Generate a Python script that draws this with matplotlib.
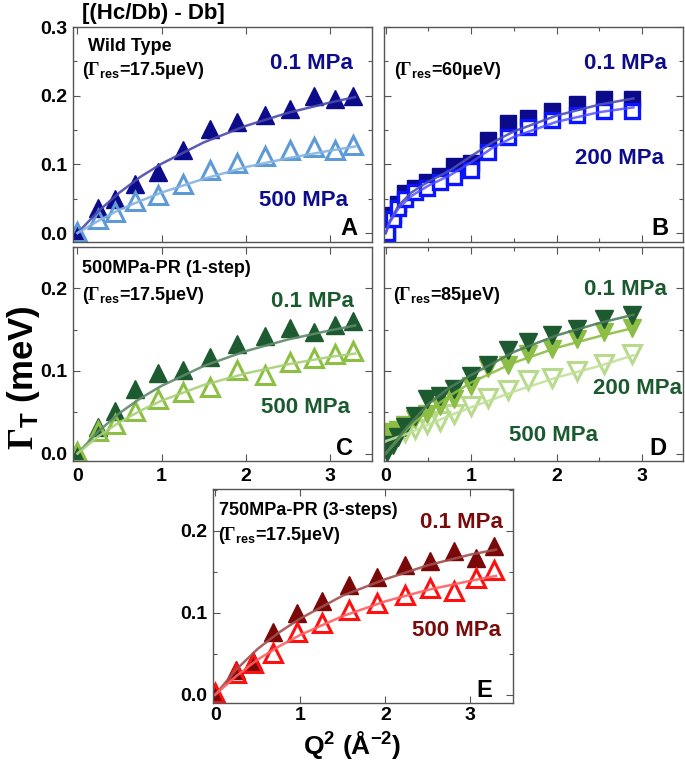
import numpy as np
import matplotlib
matplotlib.use("Agg")
import matplotlib.pyplot as plt
from matplotlib.ticker import MultipleLocator, FormatStrFormatter

plt.rcParams['font.family'] = ['Liberation Sans', 'DejaVu Sans']
plt.rcParams['font.weight'] = 'bold'
plt.rcParams['mathtext.fontset'] = 'custom'
plt.rcParams['mathtext.rm'] = 'Liberation Serif:bold'
plt.rcParams['mathtext.it'] = 'Liberation Sans:bold'
plt.rcParams['mathtext.bf'] = 'Liberation Sans:bold'

# Q^2 values (A^-2)
qA = [0.0, 0.25, 0.45, 0.68, 0.96, 1.26, 1.57, 1.90, 2.23, 2.53, 2.81, 3.06, 3.28]
qB = [0.02, 0.08, 0.14, 0.23, 0.34, 0.48, 0.63, 0.80, 1.00, 1.20, 1.43, 1.67, 1.95, 2.24, 2.55, 2.88]
fq = [0, 0.25, 0.5, 0.75, 1.0, 1.5, 2.0, 2.5, 3.0, 3.3]
fqB = [0, 0.05, 0.15, 0.3, 0.5, 0.75, 1.0, 1.25, 1.5, 2.0, 2.5, 2.9]
fqD = [0, 0.25, 0.5, 0.75, 1.0, 1.5, 2.0, 2.5, 2.9]

# A - wild type
A_01 = [0.002, 0.036, 0.050, 0.071, 0.089, 0.121, 0.152, 0.161, 0.172, 0.181, 0.199, 0.195, 0.199]
A_500 = [0.002, 0.021, 0.031, 0.046, 0.055, 0.071, 0.092, 0.102, 0.112, 0.121, 0.126, 0.121, 0.128]
A_fit01 = [0, 0.032, 0.059, 0.082, 0.101, 0.132, 0.156, 0.175, 0.190, 0.198]
A_fit500 = [0, 0.018, 0.034, 0.047, 0.059, 0.079, 0.096, 0.109, 0.120, 0.126]

# B - 60 ueV
B_01 = [0.0, 0.026, 0.043, 0.058, 0.065, 0.075, 0.083, 0.097, 0.102, 0.135, 0.160, 0.167, 0.178, 0.188, 0.195, 0.195]
B_200 = [0.0, 0.021, 0.036, 0.050, 0.060, 0.065, 0.075, 0.082, 0.092, 0.118, 0.140, 0.155, 0.164, 0.172, 0.177, 0.177]
B_fit01 = [0, 0.018, 0.040, 0.059, 0.075, 0.091, 0.112, 0.132, 0.148, 0.171, 0.187, 0.196]
B_fit200 = [0, 0.016, 0.036, 0.054, 0.069, 0.084, 0.103, 0.124, 0.140, 0.162, 0.176, 0.183]

# C - 500MPa-PR
C_01 = [0.002, 0.032, 0.052, 0.078, 0.097, 0.101, 0.117, 0.132, 0.142, 0.152, 0.147, 0.156, 0.160]
C_500 = [0.002, 0.027, 0.036, 0.052, 0.066, 0.074, 0.080, 0.101, 0.0945, 0.111, 0.116, 0.121, 0.124]
C_fit01 = [0, 0.027, 0.049, 0.067, 0.082, 0.106, 0.124, 0.138, 0.149, 0.155]
C_fit500 = [0, 0.021, 0.038, 0.052, 0.064, 0.083, 0.097, 0.108, 0.117, 0.121]

# D - 85 ueV
D_01 = [0.002, 0.010, 0.020, 0.032, 0.046, 0.066, 0.070, 0.078, 0.094, 0.107, 0.125, 0.135, 0.143, 0.151, 0.163, 0.168]
D_200 = [0.022, 0.026, 0.028, 0.034, 0.042, 0.048, 0.058, 0.066, 0.082, 0.103, 0.107, 0.120, 0.127, 0.139, 0.147, 0.152]
D_500 = [0.020, 0.022, 0.024, 0.026, 0.030, 0.036, 0.040, 0.048, 0.058, 0.067, 0.077, 0.089, 0.092, 0.100, 0.109, 0.121]
D_fit01 = [0, 0.032, 0.060, 0.080, 0.095, 0.123, 0.143, 0.158, 0.168]
D_fit200 = [0, 0.030, 0.052, 0.070, 0.086, 0.110, 0.128, 0.142, 0.152]
D_fit500 = [0.015, 0.024, 0.035, 0.046, 0.056, 0.075, 0.092, 0.106, 0.119]

# E - 750MPa-PR
E_01 = [0.002, 0.030, 0.041, 0.077, 0.0995, 0.114, 0.134, 0.144, 0.158, 0.163, 0.175, 0.167, 0.182]
E_500 = [0.002, 0.0265, 0.0386, 0.051, 0.077, 0.087, 0.104, 0.112, 0.122, 0.130, 0.126, 0.142, 0.152]
E_fit01 = [0, 0.031, 0.056, 0.076, 0.093, 0.121, 0.141, 0.158, 0.171, 0.177]
E_fit500 = [0, 0.023, 0.043, 0.059, 0.073, 0.096, 0.114, 0.128, 0.139, 0.145]

W, H = 685, 761
fig = plt.figure(figsize=(W / 100, H / 100), dpi=100)

def box(l, t, r, b):
    return [l / W, 1 - b / H, (r - l) / W, (b - t) / H]

axA = fig.add_axes(box(73, 27, 372, 242))
axB = fig.add_axes(box(384, 27, 683, 242))
axC = fig.add_axes(box(73, 247, 372, 461))
axD = fig.add_axes(box(384, 247, 683, 461))
axE = fig.add_axes(box(213, 489, 513, 703))

def style(ax, xlim, ylim, xminor, ylab, xlab, ymaj=0.1):
    ax.set_xlim(*xlim)
    ax.set_ylim(*ylim)
    ax.xaxis.set_major_locator(MultipleLocator(1))
    if xminor:
        ax.xaxis.set_minor_locator(MultipleLocator(0.5))
    ax.yaxis.set_major_locator(MultipleLocator(ymaj))
    ax.yaxis.set_minor_locator(MultipleLocator(0.05))
    ax.yaxis.set_major_formatter(FormatStrFormatter('%.1f'))
    ax.tick_params(which='both', direction='in', top=True, right=True,
                   color='#555555', labelsize=14, width=0.8)
    ax.tick_params(which='major', length=5)
    ax.tick_params(which='minor', length=3)
    ax.tick_params(axis='y', pad=4)
    ax.tick_params(axis='x', pad=5)
    for s in ax.spines.values():
        s.set_color('#555555')
        s.set_linewidth(1.0)
    if not ylab:
        ax.tick_params(labelleft=False)
    if not xlab:
        ax.tick_params(labelbottom=False)

style(axA, (-0.053, 3.5), (-0.013, 0.3), False, True, False)
style(axB, (-0.02, 3.48), (-0.013, 0.3), True, False, False)
style(axC, (-0.053, 3.5), (-0.009, 0.25), False, True, True)
style(axD, (-0.02, 3.48), (-0.009, 0.25), True, False, True)
style(axE, (-0.025, 3.5), (-0.01, 0.251), False, True, True)
axE.tick_params(axis='x', pad=3)

ms = 13
# A
axA.plot(qA, A_01, '^', color='#0c0c8a', ms=ms)
axA.plot(qA, A_500, '^', mfc='none', mec='#5e9bd6', mew=2.2, ms=ms)
axA.plot(fq, A_fit01, '-', color='#4a4aae', lw=1.8, alpha=0.9)
axA.plot(fq, A_fit500, '-', color='#86b4e2', lw=1.8, alpha=0.9)

# B
axB.plot(qB, B_01, 's', color='#0a0a8a', ms=11.5)
axB.plot(qB, B_200, 's', mfc='white', mec='#0a14ff', mew=2.4, ms=10)
axB.plot(fqB, B_fit01, '-', color='#4f4fb8', lw=1.8, alpha=0.9)
axB.plot(fqB, B_fit200, '-', color='#4a4aff', lw=1.8, alpha=0.8)

# C
axC.plot(qA, C_01, '^', color='#1d5a30', ms=ms)
axC.plot(qA, C_500, '^', mfc='none', mec='#8dbf45', mew=2.2, ms=ms)
axC.plot(fq, C_fit01, '-', color='#5f8a6a', lw=1.8, alpha=0.9)
axC.plot(fq, C_fit500, '-', color='#a9d07a', lw=1.8, alpha=0.9)

# D
axD.plot(qB, D_500, 'v', mfc='none', mec='#b8da8c', mew=2.2, ms=13)
axD.plot(qB, D_200, 'v', color='#8cbd45', ms=13)
axD.plot(qB, D_01, 'v', color='#1d5a30', ms=13)
axD.plot(fqD, D_fit500, '-', color='#c2e09a', lw=1.8, alpha=0.9)
axD.plot(fqD, D_fit200, '-', color='#8cbd45', lw=1.8, alpha=0.9)
axD.plot(fqD, D_fit01, '-', color='#4f7d5c', lw=1.8, alpha=0.9)

# E
axE.plot(qA, E_01, '^', color='#7a0808', ms=ms)
axE.plot(qA, E_500, '^', mfc='none', mec='#ff1010', mew=2.2, ms=ms)
axE.plot(fq, E_fit01, '-', color='#a25050', lw=1.8, alpha=0.9)
axE.plot(fq, E_fit500, '-', color='#ff6060', lw=1.8, alpha=0.9)

navy = '#0d0d8c'
green = '#1a5a2e'
red = '#7a0a0a'

def t(ax, x, y, s, c='black', size=13, ha='left'):
    ax.text(x, y, s, transform=ax.transAxes, color=c, fontsize=size,
            fontweight='bold', ha=ha, va='center')

res = lambda v: r'($\Gamma_{res}$=' + v + 'μeV)'

t(axA, 0.05, 0.91, 'Wild Type')
t(axA, 0.03, 0.80, res('17.5'))
t(axA, 0.935, 0.83, '0.1 MPa', navy, 16, 'right')
t(axA, 0.92, 0.195, '500 MPa', navy, 16, 'right')
t(axA, 0.95, 0.065, 'A', size=17, ha='right')

t(axB, 0.035, 0.80, res('60'))
t(axB, 0.945, 0.83, '0.1 MPa', navy, 16, 'right')
t(axB, 0.935, 0.39, '200 MPa', navy, 16, 'right')
t(axB, 0.95, 0.065, 'B', size=17, ha='right')

t(axC, 0.03, 0.90, '500MPa-PR (1-step)')
t(axC, 0.03, 0.775, res('17.5'))
t(axC, 0.94, 0.745, '0.1 MPa', green, 16, 'right')
t(axC, 0.925, 0.25, '500 MPa', green, 16, 'right')
t(axC, 0.935, 0.06, 'C', size=17, ha='right')

t(axD, 0.03, 0.775, res('85'))
t(axD, 0.945, 0.80, '0.1 MPa', green, 16, 'right')
t(axD, 0.997, 0.34, '200 MPa', green, 16, 'right')
t(axD, 0.715, 0.12, '500 MPa', green, 16, 'right')
t(axD, 0.945, 0.06, 'D', size=17, ha='right')

t(axE, 0.02, 0.90, '750MPa-PR (3-steps)')
t(axE, 0.017, 0.785, res('17.5'))
t(axE, 0.967, 0.845, '0.1 MPa', red, 16, 'right')
t(axE, 0.96, 0.34, '500 MPa', red, 16, 'right')
t(axE, 0.93, 0.06, 'E', size=17, ha='right')

fig.text(82 / W, 1 - 14 / H, '[(Hc/Db) - Db]', fontsize=16, fontweight='bold',
         ha='left', va='center')
fig.text(24 / W, 1 - 378 / H, r'$\Gamma_{T}$ (meV)', fontsize=25, fontweight='bold',
         rotation=90, ha='center', va='center')
fig.text(352 / W, 1 - 754 / H, r'Q$^{\mathregular{2}}$ (Å$^{\mathregular{-2}}$)',
         fontsize=19, fontweight='bold', ha='center', va='baseline')

fig.savefig('out.png', dpi=100)
